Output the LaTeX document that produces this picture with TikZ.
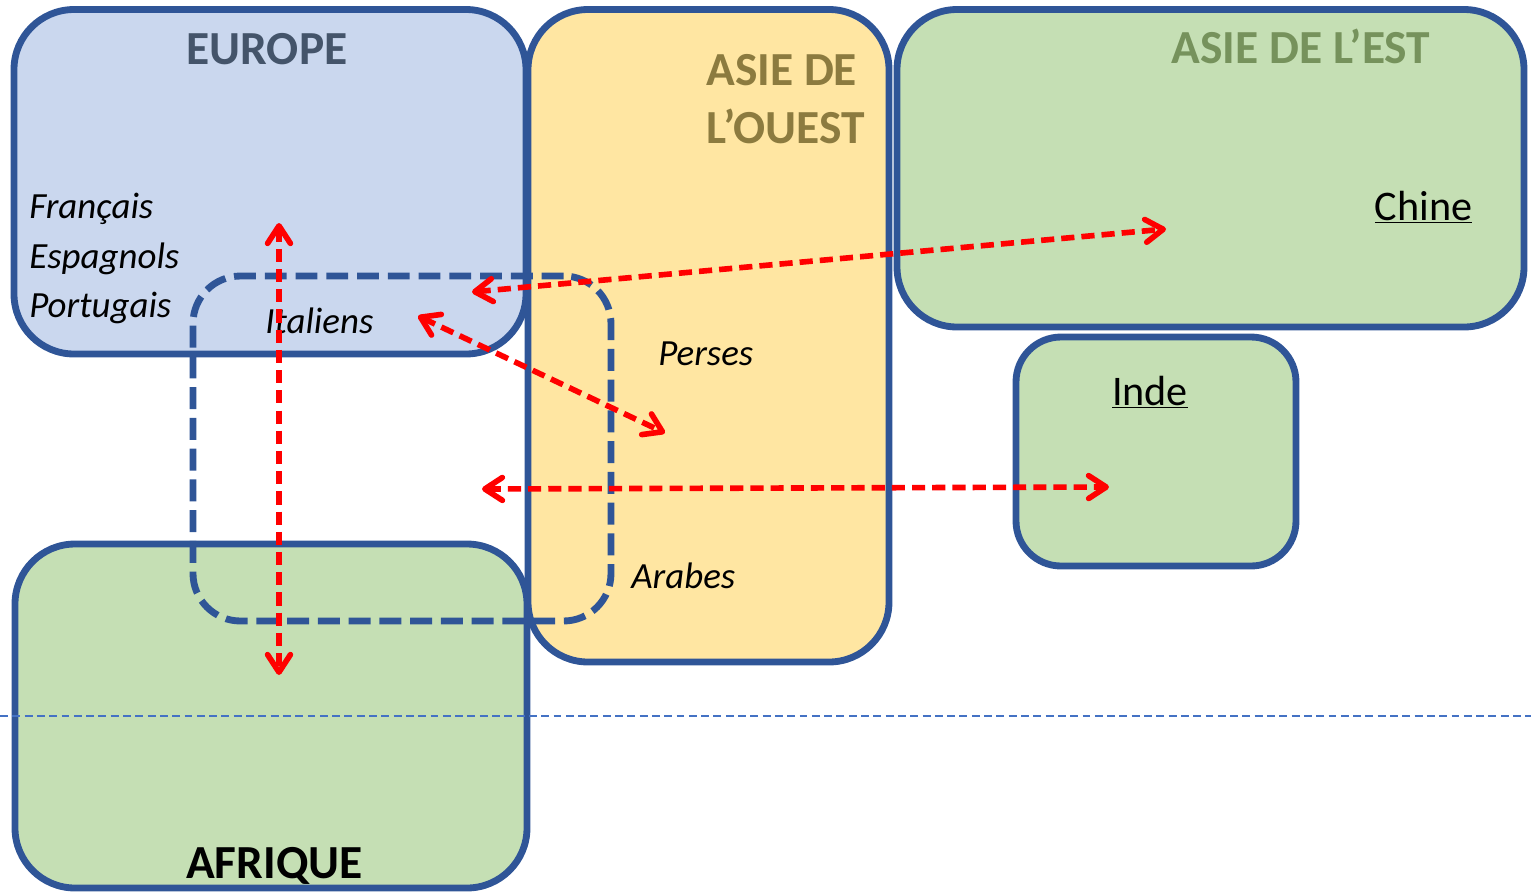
\documentclass[tikz,border=0pt]{standalone}
\usepackage{fontspec}
\setmainfont{Carlito}
\usetikzlibrary{arrows.meta,positioning}
\usepackage{xcolor}
\definecolor{bordure}{HTML}{2F5597}
\definecolor{bleuclair}{HTML}{CAD7EE}
\definecolor{jaune}{HTML}{FFE6A2}
\definecolor{vert}{HTML}{C5DFB4}
\definecolor{titreeurope}{HTML}{44546A}
\definecolor{titreouest}{HTML}{8C7B3F}
\definecolor{titreest}{HTML}{76925C}
\definecolor{ligne}{HTML}{4472C4}

\begin{document}
\begin{tikzpicture}
      \tikzstyle{region} = [rectangle, rounded corners=1.2cm, draw=bordure, line width=3.9pt]
      \tikzstyle{titre} = [inner sep=0pt, anchor=base, font=\fontsize{27}{33}\selectfont\bfseries]
      \tikzstyle{peuple} = [inner sep=0pt, anchor=base west, font=\fontsize{21}{25}\selectfont\itshape]
      \tikzstyle{pays} = [inner sep=0pt, anchor=base, font=\fontsize{24}{29}\selectfont]
      \tikzstyle{route} = [red, line width=3.2pt, dash pattern=on 7.5pt off 4pt, <->, >={Straight Barb[length=10pt,width=13pt,round]}]

      \useasboundingbox (0,0) rectangle (30.62,-17.86);

      \node[region, fill=bleuclair, minimum width=10.24cm, minimum height=6.89cm] (europe) at (5.40,-3.635) {};
      \node[region, fill=jaune, minimum width=7.22cm, minimum height=13.05cm] (ouest) at (14.17,-6.715) {};
      \node[region, fill=vert, minimum width=12.54cm, minimum height=6.35cm] (est) at (24.21,-3.365) {};
      \node[region, fill=vert, rounded corners=0.9cm, minimum width=5.60cm, minimum height=4.58cm] (indebox) at (23.12,-9.03) {};
      \node[region, fill=vert, minimum width=10.24cm, minimum height=6.88cm] (afrique) at (5.42,-14.32) {};

      \coordinate (lg) at (0,-14.32);
      \coordinate (ld) at (30.62,-14.32);
      \draw[ligne, line width=0.6pt, dash pattern=on 4.5pt off 2.5pt] (lg) -- (ld);

      \node[titre, text=titreeurope] (teurope) at (5.34,-1.28) {EUROPE};
      \node[titre, text=titreouest, align=left, anchor=base west] (touest) at (14.12,-2.86) {ASIE DE\\L’OUEST};
      \node[titre, text=titreest] (test) at (26.02,-1.26) {ASIE DE L’EST};
      \node[titre] (tafrique) at (5.49,-17.56) {AFRIQUE};
      \node[pays] (chine) at (28.47,-4.40) {\underline{Chine}};
      \node[pays] (inde) at (23.00,-8.10) {\underline{Inde}};

      \node[peuple] (francais) at (0.58,-4.36) {Français};
      \node[peuple] (espagnols) at (0.58,-5.36) {Espagnols};
      \node[peuple] (portugais) at (0.58,-6.34) {Portugais};
      \node[peuple] (italiens) at (5.30,-6.66) {Italiens};
      \node[peuple] (perses) at (13.16,-7.30) {Perses};
      \node[peuple] (arabes) at (12.62,-11.76) {Arabes};

      \node[region, rounded corners=0.95cm, dash pattern=on 12.5pt off 5pt, minimum width=8.36cm, minimum height=6.90cm] (zone) at (8.04,-8.97) {};

      \coordinate (nord) at (5.58,-4.46);
      \coordinate (sud) at (5.58,-13.50);
      \coordinate (ouestchine) at (9.44,-5.84);
      \coordinate (versChine) at (23.32,-4.58);
      \coordinate (ouestperse) at (8.36,-6.32);
      \coordinate (versPerse) at (13.30,-8.66);
      \coordinate (ouestinde) at (9.64,-9.78);
      \coordinate (versInde) at (22.18,-9.74);

      \draw[route] (nord) -- (sud);
      \draw[route] (ouestchine) -- (versChine);
      \draw[route] (ouestperse) -- (versPerse);
      \draw[route] (ouestinde) -- (versInde);
    \end{tikzpicture}
\end{document}
